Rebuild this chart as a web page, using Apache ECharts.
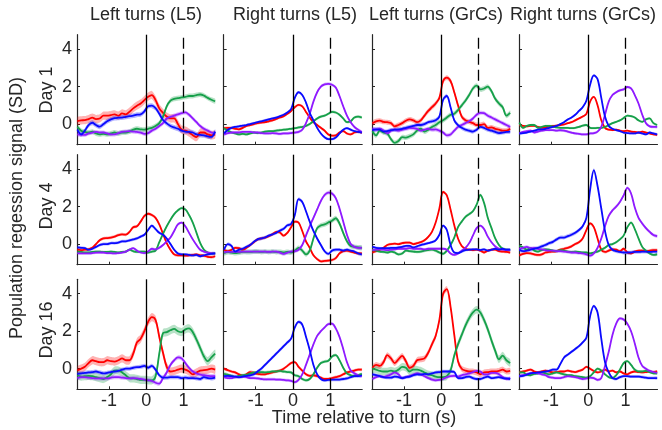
<!DOCTYPE html>
<html><head><meta charset="utf-8">
<script src="https://cdn.jsdelivr.net/npm/echarts@6/dist/echarts.min.js"></script>
<style>html,body{margin:0;padding:0;background:#fff}#c{width:662px;height:430px}</style>
</head><body><div id="c"></div>
<script>
// ---- time axis (s) ----
const timeS = [-1.85,-1.75,-1.65,-1.55,-1.45,-1.35,-1.25,-1.15,-1.05,-0.95,-0.85,-0.75,-0.65,-0.55,-0.45,-0.35,-0.25,-0.15,-0.05,0.05,0.15,0.25,0.35,0.45,0.55,0.65,0.75,0.85,0.95,1.05,1.15,1.25,1.35,1.45,1.55,1.65,1.75,1.85];

const columnTitles = ['Left turns (L5)', 'Right turns (L5)', 'Left turns (GrCs)', 'Right turns (GrCs)'];
const dayLabels = ['Day 1', 'Day 4', 'Day 16'];
const xTickValues = [-1, 0, 1];
const yTickValues = [0, 2, 4];
const eventTimes = [0, 1];

// ---- Day 1 ----
const l5Left_d1_red = [0.16,0.2,0.21,0.27,0.34,0.27,0.3,0.45,0.45,0.48,0.52,0.45,0.57,0.52,0.66,0.84,0.98,1.1,1.28,1.46,1.55,1.28,0.84,0.6,0.4,0.3,0.3,0.0,-0.3,-0.35,-0.45,-0.6,-0.7,-0.45,-0.45,-0.55,-0.6,-0.55];
const l5Left_d1_blue = [-0.3,-0.55,-0.35,-0.05,0.07,-0.05,-0.14,0.0,0.15,0.25,0.32,0.34,0.35,0.39,0.42,0.45,0.5,0.52,0.68,0.95,0.98,0.85,0.55,0.22,0.04,-0.1,-0.18,-0.25,-0.35,-0.4,-0.42,-0.45,-0.55,-0.58,-0.6,-0.65,-0.68,-0.4];
const l5Left_d1_green = [-0.15,-0.35,-0.42,-0.45,-0.4,-0.5,-0.55,-0.52,-0.55,-0.5,-0.45,-0.5,-0.45,-0.45,-0.4,-0.3,-0.25,-0.28,-0.3,-0.25,-0.2,-0.1,0.05,0.4,0.95,1.25,1.35,1.38,1.42,1.45,1.5,1.5,1.55,1.58,1.52,1.4,1.3,1.22];
const l5Left_d1_purple = [-0.55,-0.57,-0.58,-0.5,-0.45,-0.42,-0.45,-0.45,-0.5,-0.55,-0.55,-0.48,-0.42,-0.4,-0.38,-0.4,-0.42,-0.45,-0.52,-0.48,-0.35,-0.25,-0.1,0.05,0.3,0.38,0.45,0.52,0.58,0.62,0.5,0.3,0.1,-0.1,-0.25,-0.35,-0.45,-0.5];

const l5Right_d1_red = [-0.22,-0.2,-0.2,-0.25,-0.28,-0.2,-0.1,-0.05,0.0,0.05,0.08,0.1,0.15,0.2,0.27,0.35,0.42,0.55,0.7,0.9,1.02,0.95,0.65,0.35,0.1,-0.05,-0.2,-0.35,-0.55,-0.62,-0.6,-0.45,-0.38,-0.5,-0.55,-0.45,-0.42,-0.45];
const l5Right_d1_blue = [-0.5,-0.3,-0.2,-0.15,-0.12,-0.08,-0.05,0.0,0.05,0.1,0.15,0.2,0.25,0.3,0.35,0.42,0.5,0.62,0.8,1.4,1.7,1.55,1.15,0.6,0.2,-0.2,-0.5,-0.7,-0.8,-0.8,-0.72,-0.5,-0.3,-0.22,-0.3,-0.38,-0.42,-0.45];
const l5Right_d1_green = [-0.22,-0.35,-0.45,-0.5,-0.55,-0.52,-0.55,-0.5,-0.45,-0.48,-0.45,-0.4,-0.38,-0.38,-0.35,-0.32,-0.3,-0.28,-0.25,-0.22,-0.18,-0.15,-0.1,0.0,0.15,0.3,0.4,0.45,0.55,0.65,0.62,0.5,0.3,0.1,0.15,0.35,0.4,0.35];
const l5Right_d1_purple = [-0.55,-0.48,-0.45,-0.45,-0.45,-0.42,-0.42,-0.42,-0.45,-0.45,-0.48,-0.5,-0.5,-0.48,-0.5,-0.52,-0.5,-0.5,-0.48,-0.45,-0.42,-0.3,0.05,0.55,1.2,1.7,2.0,2.12,2.15,2.1,1.95,1.5,0.95,0.45,0.1,-0.15,-0.3,-0.42];

const grcLeft_d1_red = [0.05,0.15,0.18,0.12,0.1,0.05,-0.12,-0.05,0.05,0.18,0.25,0.2,0.1,0.2,0.45,0.7,0.9,1.1,1.4,2.3,2.48,2.3,1.7,1.0,0.4,0.2,0.12,0.05,-0.05,-0.05,0.0,-0.2,-0.18,-0.25,-0.3,-0.35,-0.35,-0.25];
const grcLeft_d1_blue = [-0.32,-0.28,-0.3,-0.4,-0.38,-0.32,-0.3,-0.28,-0.25,-0.2,-0.15,-0.1,-0.05,-0.05,0.0,0.1,0.15,0.2,0.4,1.3,1.5,0.9,0.2,-0.05,-0.2,-0.3,-0.35,-0.4,-0.3,-0.15,-0.2,-0.3,-0.35,-0.42,-0.48,-0.45,-0.42,-0.4];
const grcLeft_d1_green = [-0.38,-0.6,-0.35,-0.45,-0.5,-0.8,-1.0,-0.9,-0.7,-0.72,-0.65,-0.55,-0.35,-0.25,-0.4,-0.3,-0.15,-0.05,0.1,0.2,0.35,0.5,0.55,0.75,1.0,1.25,1.55,1.9,2.05,1.85,1.9,2.0,1.75,1.35,1.1,0.9,0.45,0.6];
const grcLeft_d1_purple = [-0.25,-0.3,-0.25,-0.35,-0.5,-0.35,-0.3,-0.35,-0.3,-0.25,-0.2,-0.22,-0.25,-0.35,-0.3,-0.25,-0.3,-0.28,-0.35,-0.45,-0.6,-0.55,-0.35,-0.15,-0.05,0.05,0.15,0.3,0.5,0.6,0.58,0.45,0.35,0.25,0.15,0.05,-0.05,-0.15];

const grcRight_d1_red = [-0.05,-0.1,-0.12,-0.1,-0.1,-0.15,-0.2,-0.18,-0.12,-0.1,-0.08,-0.05,-0.02,0.05,0.1,0.2,0.3,0.4,0.55,1.2,1.45,1.0,0.2,-0.2,-0.3,-0.32,-0.3,-0.35,-0.38,-0.35,-0.4,-0.42,-0.45,-0.4,-0.45,-0.5,-0.55,-0.58];
const grcRight_d1_blue = [-0.5,-0.48,-0.45,-0.4,-0.35,-0.3,-0.28,-0.25,-0.2,-0.15,-0.1,0.0,0.1,0.25,0.35,0.5,0.7,0.9,1.25,2.1,2.6,2.4,1.4,0.4,-0.1,-0.25,-0.32,-0.38,-0.45,-0.48,-0.5,-0.5,-0.45,-0.5,-0.55,-0.45,-0.5,-0.55];
const grcRight_d1_green = [0.08,-0.2,-0.1,-0.05,-0.05,-0.2,-0.15,-0.1,-0.1,-0.12,-0.18,-0.2,-0.2,-0.2,-0.22,-0.2,-0.15,-0.08,-0.05,-0.2,-0.22,-0.2,-0.2,-0.15,-0.05,0.05,0.12,0.2,0.32,0.45,0.42,0.35,0.2,0.12,0.25,0.3,0.05,-0.05];
const grcRight_d1_purple = [-0.5,-0.42,-0.38,-0.35,-0.45,-0.4,-0.35,-0.32,-0.32,-0.32,-0.35,-0.33,-0.35,-0.4,-0.45,-0.5,-0.52,-0.55,-0.55,-0.5,-0.48,-0.4,-0.15,0.5,1.2,1.55,1.7,1.8,1.85,1.98,1.9,1.55,1.1,0.5,0.05,-0.12,-0.15,-0.15];

// ---- Day 4 ----
const l5Left_d4_red = [-0.3,-0.32,-0.3,-0.28,-0.2,0.0,0.2,0.3,0.32,0.35,0.4,0.48,0.52,0.5,0.65,0.9,0.95,1.2,1.5,1.62,1.55,1.4,1.05,0.55,0.05,-0.3,-0.55,-0.6,-0.6,-0.62,-0.6,-0.58,-0.55,-0.6,-0.62,-0.68,-0.7,-0.65];
const l5Left_d4_blue = [-0.18,-0.2,-0.22,-0.3,-0.25,-0.15,-0.05,0.0,0.0,0.05,0.05,0.08,0.15,0.15,0.2,0.25,0.3,0.4,0.5,0.75,0.98,0.8,0.6,0.5,0.3,0.0,-0.3,-0.5,-0.55,-0.55,-0.58,-0.6,-0.58,-0.65,-0.6,-0.55,-0.52,-0.5];
const l5Left_d4_green = [-0.4,-0.42,-0.45,-0.45,-0.42,-0.4,-0.4,-0.42,-0.42,-0.4,-0.42,-0.45,-0.42,-0.4,-0.3,-0.38,-0.42,-0.4,-0.4,-0.45,-0.4,-0.35,0.1,0.55,0.95,1.3,1.6,1.8,1.92,1.85,1.55,1.15,0.6,0.05,-0.3,-0.45,-0.5,-0.5];
const l5Left_d4_purple = [-0.48,-0.5,-0.5,-0.5,-0.48,-0.46,-0.45,-0.45,-0.48,-0.48,-0.5,-0.48,-0.45,-0.4,-0.3,-0.22,-0.35,-0.45,-0.48,-0.4,-0.25,-0.28,-0.2,-0.05,0.15,0.35,0.7,1.05,1.15,0.95,0.6,0.25,-0.05,-0.3,-0.4,-0.45,-0.48,-0.5];

const l5Right_d4_red = [-0.3,-0.38,-0.3,-0.2,-0.22,-0.3,-0.2,-0.05,0.1,0.25,0.3,0.35,0.42,0.52,0.65,0.62,0.45,0.6,0.9,1.2,1.15,0.7,0.15,-0.2,-0.6,-0.8,-0.92,-0.9,-0.88,-0.85,-0.75,-0.5,-0.38,-0.35,-0.4,-0.45,-0.5,-0.5];
const l5Right_d4_blue = [-0.3,0.0,-0.1,-0.4,-0.3,-0.25,-0.15,-0.05,0.12,0.25,0.3,0.35,0.45,0.52,0.6,0.72,0.82,1.0,1.07,1.55,2.4,2.25,1.75,1.2,0.7,0.3,-0.05,-0.38,-0.52,-0.35,-0.3,-0.3,-0.35,-0.3,-0.35,-0.4,-0.5,-0.55];
const l5Right_d4_green = [-0.48,-0.42,-0.45,-0.48,-0.45,-0.42,-0.42,-0.42,-0.4,-0.4,-0.42,-0.4,-0.42,-0.4,-0.42,-0.42,-0.45,-0.42,-0.45,-0.35,-0.2,-0.35,-0.55,-0.35,0.3,0.85,1.0,1.05,1.15,1.25,1.38,1.1,0.6,0.15,-0.1,-0.15,-0.18,-0.2];
const l5Right_d4_purple = [-0.45,-0.4,-0.42,-0.42,-0.42,-0.4,-0.4,-0.4,-0.4,-0.4,-0.4,-0.4,-0.42,-0.4,-0.4,-0.45,-0.52,-0.45,-0.4,-0.38,-0.3,-0.05,0.45,0.95,1.4,1.85,2.3,2.62,2.75,2.7,2.45,1.9,1.2,0.5,0.0,-0.15,-0.2,-0.2];

const grcLeft_d4_red = [-0.45,-0.38,-0.3,-0.2,-0.05,0.0,0.02,0.0,0.05,0.08,0.08,0.0,0.05,0.1,0.2,0.38,0.65,1.15,1.9,2.78,2.6,1.85,1.0,0.3,-0.1,-0.25,-0.3,-0.32,-0.3,-0.35,-0.45,-0.35,-0.3,-0.3,-0.38,-0.4,-0.42,-0.45];
const grcLeft_d4_blue = [-0.15,-0.2,-0.22,-0.22,-0.22,-0.2,-0.2,-0.18,-0.15,-0.1,-0.1,-0.18,-0.12,-0.05,0.0,0.05,0.1,0.2,0.5,0.98,0.75,-0.05,-0.45,-0.48,-0.4,-0.32,-0.3,-0.28,-0.28,-0.32,-0.28,-0.35,-0.3,-0.25,-0.3,-0.25,-0.3,-0.3];
const grcLeft_d4_green = [-0.32,-0.35,-0.4,-0.42,-0.45,-0.4,-0.45,-0.55,-0.5,-0.35,-0.38,-0.4,-0.42,-0.4,-0.35,-0.32,-0.3,-0.35,-0.45,-0.52,-0.35,-0.05,0.35,0.9,1.2,1.45,1.6,1.75,2.1,2.62,2.2,1.4,0.85,0.3,-0.05,-0.25,-0.3,-0.32];
const grcLeft_d4_purple = [-0.32,-0.3,-0.28,-0.3,-0.32,-0.3,-0.28,-0.25,-0.25,-0.25,-0.22,-0.25,-0.25,-0.25,-0.28,-0.25,-0.25,-0.25,-0.25,-0.25,-0.3,-0.5,-0.58,-0.5,-0.35,-0.2,0.05,0.45,0.85,0.98,0.8,0.4,0.1,-0.12,-0.25,-0.3,-0.32,-0.32];

const grcRight_d4_red = [-0.6,-0.52,-0.48,-0.5,-0.55,-0.58,-0.55,-0.45,-0.42,-0.4,-0.38,-0.3,-0.25,-0.2,-0.12,0.0,0.1,0.3,0.75,1.1,0.9,0.3,-0.3,-0.42,-0.35,-0.28,-0.3,-0.38,-0.25,-0.45,-0.5,-0.4,-0.35,-0.35,-0.38,-0.35,-0.32,-0.32];
const grcRight_d4_blue = [-0.3,-0.38,-0.35,-0.3,-0.25,-0.2,-0.12,-0.05,0.05,0.12,0.25,0.35,0.35,0.42,0.5,0.6,0.75,0.95,1.4,2.9,3.95,3.1,1.9,0.7,-0.05,-0.3,-0.38,-0.42,-0.45,-0.45,-0.45,-0.42,-0.42,-0.4,-0.4,-0.42,-0.4,-0.4];
const grcRight_d4_green = [-0.1,-0.18,-0.3,-0.22,-0.35,-0.4,-0.32,-0.28,-0.3,-0.35,-0.38,-0.32,-0.35,-0.4,-0.42,-0.4,-0.42,-0.45,-0.45,-0.5,-0.45,-0.4,-0.3,-0.2,-0.05,0.0,0.1,0.25,0.45,0.9,1.15,0.8,0.3,-0.15,-0.35,-0.5,-0.58,-0.55];
const grcRight_d4_purple = [-0.25,-0.2,-0.15,-0.22,-0.2,-0.25,-0.28,-0.32,-0.35,-0.35,-0.38,-0.38,-0.4,-0.42,-0.45,-0.45,-0.48,-0.5,-0.55,-0.62,-0.5,-0.2,0.3,0.95,1.5,1.8,2.0,2.25,2.6,3.0,2.7,1.95,1.4,1.1,0.85,0.65,0.48,0.42];

// ---- Day 16 ----
const l5Left_d16_red = [-0.1,0.0,0.1,0.3,0.45,0.4,0.35,0.35,0.45,0.4,0.38,0.45,0.55,0.45,0.45,0.8,1.4,1.6,2.0,2.5,2.75,2.6,1.7,0.85,0.1,-0.15,-0.12,-0.05,0.0,-0.05,-0.15,-0.3,-0.2,-0.1,-0.08,-0.05,0.0,-0.05];
const l5Left_d16_blue = [-0.28,-0.25,-0.22,-0.2,-0.18,-0.15,-0.2,-0.25,-0.22,-0.18,-0.15,-0.12,-0.05,0.0,0.0,0.05,0.08,0.1,0.15,0.05,0.15,-0.05,-0.35,-0.48,-0.48,-0.45,-0.45,-0.45,-0.5,-0.48,-0.5,-0.5,-0.52,-0.55,-0.45,-0.5,-0.52,-0.48];
const l5Left_d16_green = [-0.35,-0.42,-0.4,-0.38,-0.4,-0.45,-0.5,-0.55,-0.45,-0.3,-0.1,-0.1,-0.2,-0.35,-0.5,-0.52,-0.55,-0.6,-0.6,-0.62,-0.62,-0.4,0.8,1.9,1.95,2.05,2.12,2.0,1.95,2.1,2.15,1.95,1.55,1.1,0.65,0.4,0.6,0.8];
const l5Left_d16_purple = [-0.5,-0.45,-0.45,-0.48,-0.5,-0.52,-0.52,-0.52,-0.52,-0.48,-0.45,-0.45,-0.48,-0.5,-0.52,-0.5,-0.52,-0.55,-0.58,-0.62,-0.65,-0.75,-0.8,-0.5,-0.2,0.2,0.45,0.6,0.55,0.3,0.05,-0.15,-0.25,-0.32,-0.35,-0.38,-0.4,-0.4];

const l5Right_d16_red = [0.0,-0.08,-0.15,-0.2,-0.3,-0.38,-0.3,-0.18,-0.22,-0.28,-0.3,-0.3,-0.25,-0.2,-0.15,-0.1,0.0,0.15,0.3,0.35,0.1,-0.1,-0.3,-0.38,-0.35,-0.4,-0.48,-0.55,-0.55,-0.5,-0.45,-0.4,-0.3,-0.2,-0.15,-0.1,-0.05,-0.05];
const l5Right_d16_blue = [-0.4,-0.38,-0.4,-0.42,-0.45,-0.42,-0.38,-0.35,-0.3,-0.15,0.0,0.2,0.4,0.6,0.8,1.0,1.2,1.4,1.6,2.2,2.5,2.35,1.7,1.0,0.2,-0.3,-0.55,-0.62,-0.6,-0.58,-0.58,-0.58,-0.55,-0.52,-0.45,-0.4,-0.4,-0.35];
const l5Right_d16_green = [-0.28,-0.32,-0.38,-0.45,-0.38,-0.35,-0.32,-0.25,-0.2,-0.2,-0.18,-0.2,-0.18,-0.15,-0.15,-0.12,-0.15,-0.18,-0.2,-0.35,-0.4,-0.55,-0.62,-0.55,-0.3,0.05,0.3,0.38,0.42,0.65,0.72,0.45,0.05,-0.25,-0.35,-0.38,-0.35,-0.28];
const l5Right_d16_purple = [-0.45,-0.5,-0.5,-0.45,-0.45,-0.42,-0.45,-0.5,-0.5,-0.52,-0.55,-0.57,-0.57,-0.57,-0.58,-0.58,-0.6,-0.62,-0.65,-0.72,-0.6,-0.3,0.2,0.75,1.3,1.75,2.0,2.2,2.38,2.4,2.15,1.7,1.05,0.35,-0.1,-0.25,-0.35,-0.4];

const grcLeft_d16_red = [0.05,0.2,0.15,0.35,0.72,0.55,0.3,0.5,0.68,0.4,0.05,0.15,0.45,0.5,0.55,0.85,1.3,1.75,2.6,4.0,4.25,3.3,1.8,0.4,0.0,-0.1,-0.15,-0.15,-0.2,-0.3,-0.2,-0.18,-0.15,-0.15,-0.12,-0.05,-0.15,-0.12];
const grcLeft_d16_blue = [-0.3,-0.35,-0.4,-0.45,-0.48,-0.48,-0.42,-0.45,-0.5,-0.45,-0.42,-0.35,-0.3,-0.32,-0.28,-0.3,-0.25,-0.2,-0.18,-0.15,-0.15,-0.15,-0.18,-0.5,-0.5,-0.45,-0.42,-0.5,-0.55,-0.55,-0.48,-0.42,-0.5,-0.48,-0.45,-0.5,-0.52,-0.55];
const grcLeft_d16_green = [0.0,-0.05,-0.12,-0.15,-0.15,-0.1,-0.15,-0.05,0.1,0.05,-0.15,-0.05,-0.05,-0.1,-0.2,-0.3,-0.35,-0.42,-0.45,-0.45,-0.4,-0.1,0.7,1.3,1.8,2.3,2.7,3.0,3.15,3.0,2.6,2.1,1.5,0.95,0.5,0.7,0.45,0.3];
const grcLeft_d16_purple = [-0.55,-0.45,-0.4,-0.45,-0.38,-0.3,-0.2,-0.3,-0.5,-0.45,-0.4,-0.32,-0.25,-0.3,-0.4,-0.5,-0.58,-0.62,-0.6,-0.55,-0.45,-0.4,-0.38,-0.42,-0.35,-0.3,-0.25,-0.18,-0.12,-0.15,-0.3,-0.3,-0.22,-0.22,-0.3,-0.45,-0.55,-0.5];

const grcRight_d16_red = [-0.2,-0.15,-0.1,-0.05,-0.15,-0.2,-0.15,-0.1,-0.15,-0.2,-0.18,-0.15,-0.15,-0.1,-0.15,-0.18,-0.12,-0.05,0.1,0.0,-0.12,-0.2,-0.15,-0.05,-0.15,-0.1,-0.2,-0.15,-0.25,-0.3,-0.2,-0.15,-0.18,-0.2,-0.18,-0.15,-0.18,-0.15];
const grcRight_d16_blue = [-0.4,-0.38,-0.32,-0.25,-0.22,-0.2,-0.18,-0.15,-0.12,-0.05,-0.05,0.25,0.6,0.75,0.9,1.05,1.2,1.4,1.65,2.8,3.35,3.0,1.6,0.35,-0.2,-0.5,-0.55,-0.45,-0.4,-0.4,-0.42,-0.42,-0.42,-0.45,-0.48,-0.5,-0.5,-0.5];
const grcRight_d16_green = [-0.2,-0.2,-0.32,-0.35,-0.28,-0.25,-0.2,-0.25,-0.3,-0.25,-0.2,-0.25,-0.3,-0.35,-0.35,-0.4,-0.42,-0.45,-0.48,-0.4,-0.2,0.0,-0.1,-0.3,-0.45,-0.5,-0.35,-0.05,0.3,0.4,0.2,-0.05,-0.15,-0.15,-0.12,-0.18,-0.25,-0.25];
const grcRight_d16_purple = [-0.4,-0.35,-0.3,-0.25,-0.22,-0.25,-0.3,-0.35,-0.45,-0.48,-0.5,-0.5,-0.45,-0.4,-0.42,-0.45,-0.5,-0.55,-0.52,-0.48,-0.5,-0.6,-0.5,0.15,0.9,1.8,2.4,2.68,2.62,2.4,2.0,1.35,0.6,0.15,0.0,-0.12,-0.18,-0.22];

// ---- SEM half-widths per panel (red, blue, green, purple) ----
const sem_l5Left_d1 = [0.22, 0.13, 0.13, 0.11];
const sem_l5Right_d1 = [0.07, 0.07, 0.07, 0.08];
const sem_grcLeft_d1 = [0.13, 0.11, 0.13, 0.11];
const sem_grcRight_d1 = [0.06, 0.06, 0.06, 0.07];
const sem_l5Left_d4 = [0.08, 0.08, 0.07, 0.07];
const sem_l5Right_d4 = [0.08, 0.09, 0.13, 0.1];
const sem_grcLeft_d4 = [0.07, 0.07, 0.08, 0.07];
const sem_grcRight_d4 = [0.08, 0.1, 0.07, 0.09];
const sem_l5Left_d16 = [0.22, 0.11, 0.22, 0.11];
const sem_l5Right_d16 = [0.08, 0.09, 0.08, 0.08];
const sem_grcLeft_d16 = [0.16, 0.09, 0.2, 0.09];
const sem_grcRight_d16 = [0.07, 0.08, 0.07, 0.08];

// ---- table built from the named arrays: rows = days, cols = conditions ----
const panelTable = [
  [
    {lines:[l5Left_d1_red,l5Left_d1_blue,l5Left_d1_green,l5Left_d1_purple], sem:sem_l5Left_d1},
    {lines:[l5Right_d1_red,l5Right_d1_blue,l5Right_d1_green,l5Right_d1_purple], sem:sem_l5Right_d1},
    {lines:[grcLeft_d1_red,grcLeft_d1_blue,grcLeft_d1_green,grcLeft_d1_purple], sem:sem_grcLeft_d1},
    {lines:[grcRight_d1_red,grcRight_d1_blue,grcRight_d1_green,grcRight_d1_purple], sem:sem_grcRight_d1}
  ],
  [
    {lines:[l5Left_d4_red,l5Left_d4_blue,l5Left_d4_green,l5Left_d4_purple], sem:sem_l5Left_d4},
    {lines:[l5Right_d4_red,l5Right_d4_blue,l5Right_d4_green,l5Right_d4_purple], sem:sem_l5Right_d4},
    {lines:[grcLeft_d4_red,grcLeft_d4_blue,grcLeft_d4_green,grcLeft_d4_purple], sem:sem_grcLeft_d4},
    {lines:[grcRight_d4_red,grcRight_d4_blue,grcRight_d4_green,grcRight_d4_purple], sem:sem_grcRight_d4}
  ],
  [
    {lines:[l5Left_d16_red,l5Left_d16_blue,l5Left_d16_green,l5Left_d16_purple], sem:sem_l5Left_d16},
    {lines:[l5Right_d16_red,l5Right_d16_blue,l5Right_d16_green,l5Right_d16_purple], sem:sem_l5Right_d16},
    {lines:[grcLeft_d16_red,grcLeft_d16_blue,grcLeft_d16_green,grcLeft_d16_purple], sem:sem_grcLeft_d16},
    {lines:[grcRight_d16_red,grcRight_d16_blue,grcRight_d16_green,grcRight_d16_purple], sem:sem_grcRight_d16}
  ]
];

// ---- styling / layout ----
const lineColors = ['#ff0000', '#0a0aff', '#16a04a', '#8f1aff'];
const drawOrder = [0, 2, 3, 1];
const gridLefts = [77, 223.7, 372, 519];
const gridTops = [34.7, 154.7, 279.3];
const gridW = 138.5, gridH = 110;
const xMin = -1.86, xMax = 1.86, yMin = -1.1, yMax = 4.77;
const textColor = '#262626', axisColor = '#262626';
const fontFam = '"Liberation Sans", Arial, Helvetica, sans-serif';
const fs = 18;

function bandRenderer(xs, ys, sem, color) {
  return function (params, api) {
    const pts = [];
    for (let i = 0; i < xs.length; i++) pts.push(api.coord([xs[i], ys[i] + sem]));
    for (let i = xs.length - 1; i >= 0; i--) pts.push(api.coord([xs[i], ys[i] - sem]));
    return { type: 'polygon', silent: true, shape: { points: pts, smooth: 0.25 },
             style: { fill: color, opacity: 0.3 } };
  };
}

const grids = [], xAxes = [], yAxes = [], series = [];
let gi = 0;
for (let r = 0; r < 3; r++) {
  for (let c = 0; c < 4; c++) {
    const p = panelTable[r][c];
    grids.push({ left: gridLefts[c], top: gridTops[r], width: gridW, height: gridH });
    xAxes.push({
      gridIndex: gi, type: 'value', position: 'bottom', min: xMin, max: xMax,
      axisLine: { show: true, onZero: false, lineStyle: { color: axisColor, width: 1.2 } },
      axisTick: { show: true, inside: true, length: 3, customValues: xTickValues, lineStyle: { color: axisColor } },
      axisLabel: { show: r === 2, customValues: xTickValues, margin: 3, fontSize: fs, color: textColor, fontFamily: fontFam },
      splitLine: { show: false }
    });
    yAxes.push({
      gridIndex: gi, type: 'value', position: 'left', min: yMin, max: yMax,
      axisLine: { show: true, onZero: false, lineStyle: { color: axisColor, width: 1.2 } },
      axisTick: { show: true, inside: true, length: 3, customValues: yTickValues, lineStyle: { color: axisColor } },
      axisLabel: { show: c === 0, customValues: yTickValues, margin: 5, fontSize: fs, color: textColor, fontFamily: fontFam },
      splitLine: { show: false }
    });
    series.push({
      type: 'line', xAxisIndex: gi, yAxisIndex: gi, data: [], symbol: 'none', z: 2, silent: true,
      markLine: {
        silent: true, symbol: ['none', 'none'], label: { show: false }, animation: false,
        data: [
          { xAxis: eventTimes[0], lineStyle: { type: 'solid', color: '#000', width: 1.3 } },
          { xAxis: eventTimes[1], lineStyle: { type: [11, 5], color: '#000', width: 1.3 } }
        ]
      }
    });
    for (const k of drawOrder) {
      series.push({
        type: 'custom', xAxisIndex: gi, yAxisIndex: gi, z: 3, silent: true,
        data: [[0, 0]], renderItem: bandRenderer(timeS, p.lines[k], p.sem[k], lineColors[k])
      });
    }
    for (const k of drawOrder) {
      series.push({
        type: 'line', xAxisIndex: gi, yAxisIndex: gi, z: 4, silent: true,
        data: timeS.map((t, i) => [t, p.lines[k][i]]),
        symbol: 'none', smooth: 0.35,
        lineStyle: { color: lineColors[k], width: 1.8 }
      });
    }
    gi++;
  }
}

const graphics = [];
const titleCenters = [146, 295, 436, 583];
columnTitles.forEach((t, i) => graphics.push({
  type: 'text', x: titleCenters[i], y: 15, silent: true,
  style: { text: t, fontSize: fs, fontFamily: fontFam, fill: textColor, align: 'center', verticalAlign: 'middle' }
}));
const dayCenters = [90, 206, 330];
dayLabels.forEach((t, i) => graphics.push({
  type: 'text', x: 47, y: dayCenters[i], rotation: Math.PI / 2, silent: true,
  style: { text: t, fontSize: fs, fontFamily: fontFam, fill: textColor, align: 'center', verticalAlign: 'middle' }
}));
graphics.push({
  type: 'text', x: 17, y: 208, rotation: Math.PI / 2, silent: true,
  style: { text: 'Population regession signal (SD)', fontSize: fs, fontFamily: fontFam, fill: textColor, align: 'center', verticalAlign: 'middle' }
});
graphics.push({
  type: 'text', x: 364, y: 418, silent: true,
  style: { text: 'Time relative to turn (s)', fontSize: fs, fontFamily: fontFam, fill: textColor, align: 'center', verticalAlign: 'middle' }
});

const chart = echarts.init(document.getElementById('c'), null, { renderer: 'canvas' });
chart.setOption({
  animation: false,
  backgroundColor: '#ffffff',
  grid: grids, xAxis: xAxes, yAxis: yAxes, series: series, graphic: graphics
});
</script>
</body></html>
